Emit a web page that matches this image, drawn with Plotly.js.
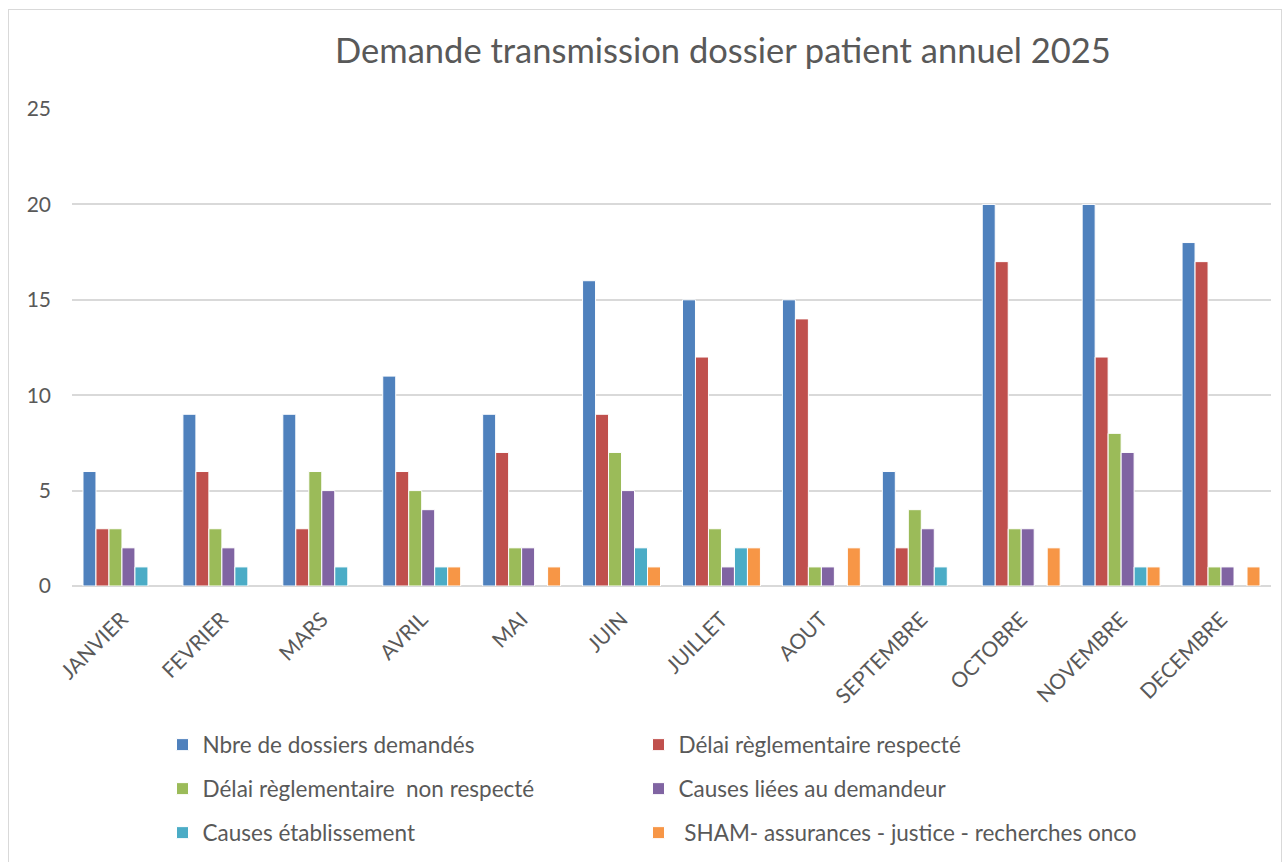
<!DOCTYPE html>
<html>
<head>
<meta charset="utf-8">
<script src="https://cdn.plot.ly/plotly-3.0.1.min.js"></script>
<style>
  html, body { margin: 0; padding: 0; background: #ffffff; overflow: hidden; }
  #chart { position: absolute; left: 0; top: 0; width: 1284px; height: 862px; }
  #frame { position: absolute; left: 8px; top: 9px; width: 1272px; height: 900px;
           border: 1px solid #d9d9d9; pointer-events: none; }
</style>
</head>
<body>
<div id="chart"></div>
<div id="frame"></div>
<script>
const months = ["JANVIER", "FEVRIER", "MARS", "AVRIL", "MAI", "JUIN", "JUILLET", "AOUT", "SEPTEMBRE", "OCTOBRE", "NOVEMBRE", "DECEMBRE"];

const seriesNames = [
  "Nbre de dossiers demandés",
  "Délai règlementaire respecté",
  "Délai règlementaire  non respecté",
  "Causes liées au demandeur",
  "Causes établissement",
  " SHAM- assurances - justice - recherches onco"
];

const nbreDossiers      = [6, 9, 9, 11, 9, 16, 15, 15, 6, 20, 20, 18];
const delaiRespecte     = [3, 6, 3, 6, 7, 9, 12, 14, 2, 17, 12, 17];
const delaiNonRespecte  = [3, 3, 6, 5, 2, 7, 3, 1, 4, 3, 8, 1];
const causesDemandeur   = [2, 2, 5, 4, 2, 5, 1, 1, 3, 3, 7, 1];
const causesEtablissement = [1, 1, 1, 1, null, 2, 2, null, 1, null, 1, null];
const shamAssurances    = [null, null, null, 1, 1, 1, 2, 2, null, 2, 1, 1];

const seriesValues = [nbreDossiers, delaiRespecte, delaiNonRespecte, causesDemandeur, causesEtablissement, shamAssurances];
const seriesColors = ["#4f81bd", "#c0504d", "#9bbb59", "#8064a2", "#4bacc6", "#f79646"];
const legendIds = ["legend", "legend2", "legend3", "legend4", "legend5", "legend6"];

const FONT = "Lato, 'Open Sans', sans-serif";
const TXT = "#595959";

const traces = seriesValues.map((vals, i) => ({
  type: "bar",
  name: seriesNames[i],
  x: months,
  y: vals,
  marker: { color: seriesColors[i], line: { color: "#ffffff", width: 1 } },
  legend: legendIds[i],
  hoverinfo: "x+y+name"
}));

const PLOT_LEFT = 72, PLOT_W = 1284 - 13 - 72;
const PLOT_BOTTOM = 586, PLOT_H = 586 - 109;

function legendAt(pxLeft, pyCenter) {
  return {
    orientation: "v",
    x: (pxLeft - PLOT_LEFT) / PLOT_W,
    xanchor: "left",
    y: (PLOT_BOTTOM - pyCenter) / PLOT_H,
    yanchor: "middle",
    font: { family: FONT, size: 22.5, color: TXT },
    bgcolor: "rgba(0,0,0,0)",
    borderwidth: 0
  };
}

const colLeft = [162.5, 638.5];
const rowY = [745, 789, 833];

const layout = {
  width: 1284,
  height: 862,
  margin: { l: PLOT_LEFT, r: 13, t: 109, b: 862 - PLOT_BOTTOM, autoexpand: false },
  paper_bgcolor: "#ffffff",
  plot_bgcolor: "#ffffff",
  font: { family: FONT, color: TXT },
  title: {
    text: "Demande transmission dossier patient annuel 2025",
    font: { family: FONT, size: 34.5, color: TXT },
    x: 723 / 1284,
    xref: "container",
    xanchor: "center",
    y: 1 - 51 / 862,
    yref: "container",
    yanchor: "middle"
  },
  barmode: "group",
  bargap: 0.22,
  bargroupgap: 0.0,
  xaxis: {
    type: "category",
    tickangle: -45,
    tickfont: { family: FONT, size: 21, color: TXT },
    showgrid: false,
    showline: false,
    ticks: "",
    ticklabelstandoff: 16,
    zeroline: false
  },
  yaxis: {
    range: [0, 25],
    dtick: 5,
    tick0: 0,
    tickfont: { family: FONT, size: 21, color: TXT },
    showgrid: true,
    gridcolor: "#d9d9d9",
    gridwidth: 2,
    zeroline: true,
    zerolinecolor: "#d9d9d9",
    zerolinewidth: 2,
    showline: false,
    ticks: "",
    ticklabelstandoff: 20,
    fixedrange: true
  },
  showlegend: true,
  legend:  legendAt(colLeft[0], rowY[0]),
  legend2: legendAt(colLeft[1], rowY[0]),
  legend3: legendAt(colLeft[0], rowY[1]),
  legend4: legendAt(colLeft[1], rowY[1]),
  legend5: legendAt(colLeft[0], rowY[2]),
  legend6: legendAt(colLeft[1], rowY[2])
};

Plotly.newPlot("chart", traces, layout, { displayModeBar: false });
</script>
</body>
</html>
